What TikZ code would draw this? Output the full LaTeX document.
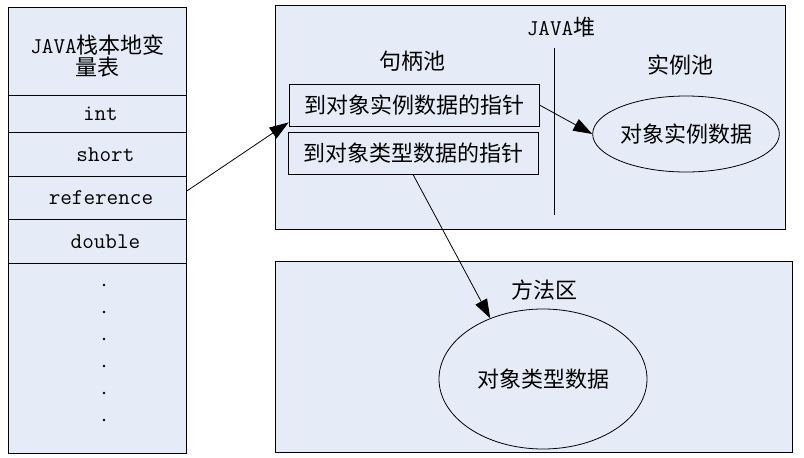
\documentclass[tikz,border=0pt]{standalone}
\usepackage{fontspec}
\newfontfamily\cjk{Noto Sans CJK SC}
\usetikzlibrary{shapes.geometric,arrows.meta}
\definecolor{boxfill}{HTML}{E6ECF7}
\newcommand{\cjkfont}{\cjk\fontsize{22}{24}\selectfont}
\newcommand{\monofont}{\ttfamily\fontsize{22.5}{24}\selectfont}
\begin{document}
\begin{tikzpicture}[x=1pt,y=-1pt,
  cell/.style={draw=black, line width=0.9pt, fill=boxfill, minimum width=178pt, inner sep=0pt, anchor=north west, font=\monofont},
  area/.style={draw=black, line width=0.9pt, fill=boxfill, inner sep=0pt, anchor=north west},
  ptr/.style={draw=black, line width=0.9pt, fill=boxfill, minimum width=250pt, minimum height=42pt, inner sep=0pt, font=\cjkfont},
  blob/.style={ellipse, draw=black, line width=0.8pt, fill=boxfill, inner sep=0pt, font=\cjkfont},
  lbl/.style={font=\cjkfont, inner sep=0pt},
  conn/.style={line width=0.8pt, -{Triangle[length=19pt,width=13pt]}}
]
\useasboundingbox (0,0) rectangle (804,458);
\fill[white] (0,0) rectangle (804,458);

% stack frame column
\node[cell, minimum height=88pt] (title) at (8,7) {};
\node[lbl, align=center, font=\fontsize{22}{22.5}\selectfont] (titletext) at (97.5,56) {{\monofont JAVA}{\cjk 栈本地变}\\{\cjk 量表}};
\node[cell, minimum height=37pt] (int) at (8,95) {\hspace*{6pt}int};
\node[cell, minimum height=44pt] (short) at (8,132) {\hspace*{16pt}short};
\node[cell, minimum height=43pt] (ref) at (8,176) {\hspace*{7pt}reference};
\node[cell, minimum height=44pt] (double) at (8,219) {\hspace*{16pt}double};
\node[cell, minimum height=190pt] (rest) at (8,263) {};
\foreach \k in {0,...,5} \fill ({104},{285+27*\k}) circle (1.3pt);

% heap
\node[area, minimum width=510pt, minimum height=224pt] (heap) at (275,5) {};
\node[lbl] (heaplbl) at (561,27) {{\monofont JAVA}堆};
\node[lbl] (handle) at (412,61) {句柄池};
\node[lbl] (inst) at (680,65) {实例池};
\draw[line width=0.9pt] (554,48) -- (554,215);
\node[ptr] (box1) at (414,105) {到对象实例数据的指针};
\node[ptr] (box2) at (413,153) {到对象类型数据的指针};
\node[blob, minimum width=183pt, minimum height=76pt] (ell1) at (686,134) {对象实例数据};

% method area
\node[area, minimum width=517pt, minimum height=191pt] (method) at (275,261) {};
\node[lbl] (methodlbl) at (544,290) {方法区};
\node[blob, minimum width=208pt, minimum height=140pt] (ell2) at (543,379) {对象类型数据};

% connectors
\draw[conn] ([yshift=7pt]ref.east) -- ([yshift=4pt]box1.south west);
\draw[conn] (box1.east) -- (ell1.west);
\draw[conn] (box2.south) -- (ell2.131);
\end{tikzpicture}
\end{document}
